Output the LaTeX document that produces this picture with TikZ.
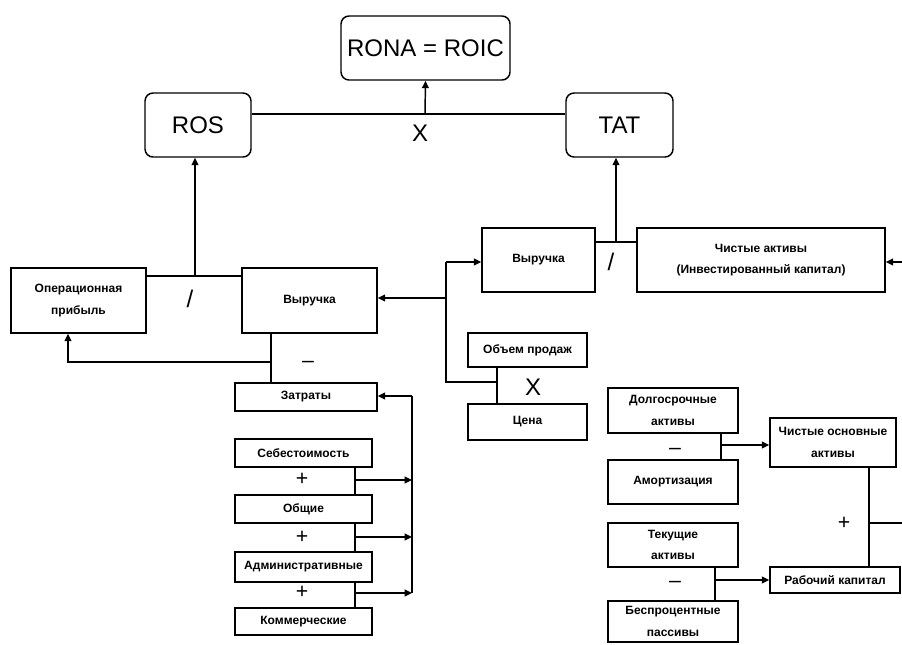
\documentclass[tikz,border=0pt]{standalone}
\usepackage{fontspec}
\setmainfont{Liberation Sans}
\usetikzlibrary{arrows.meta}
\begin{document}
\begin{tikzpicture}[x=0.75pt,y=-0.75pt,line width=1.1pt,
  box/.style={draw,rectangle,inner sep=0pt,align=center,font=\fontsize{9}{16}\selectfont\bfseries},
  rbox/.style={draw,rectangle,rounded corners=6pt,inner sep=0pt,minimum height=48pt,font=\fontsize{18}{20}\selectfont},
  arr/.style={-{Triangle[length=5.5pt,width=5pt]}},
  op/.style={inner sep=0pt,font=\fontsize{18}{20}\selectfont},
  sgn/.style={inner sep=0pt,font=\fontsize{16}{16}\selectfont}]
\useasboundingbox (0,0) rectangle (902,644);
\node[rbox,minimum width=126.75pt] (rona) at (425.5,48) {RONA = ROIC};
\node[rbox,minimum width=79.5pt] (ros) at (198,125) {ROS};
\node[rbox,minimum width=80.25pt] (tat) at (619.5,125) {TAT};
\node[box,minimum width=101.25pt,minimum height=48.75pt] (opprofit) at (78.5,300.5) {Операционная\\прибыль};
\node[box,minimum width=101.25pt,minimum height=48.75pt] (revL) at (309.5,300.5) {Выручка};
\node[box,minimum width=84.75pt,minimum height=48pt] (revR) at (538.5,260) {Выручка};
\node[box,minimum width=186pt,minimum height=48pt] (netassets) at (761,260) {Чистые активы\\(Инвестированный капитал)};
\node[box,minimum width=89.25pt,minimum height=25.5pt] (volume) at (527.5,350) {Объем продаж};
\node[box,minimum width=89.25pt,minimum height=27pt] (price) at (527.5,422) {Цена};
\node[box,minimum width=106.5pt,minimum height=21pt] (costs) at (306,397) {Затраты};
\node[box,minimum width=102.75pt,minimum height=21pt] (cogs) at (303.5,453) {Себестоимость};
\node[box,minimum width=102.75pt,minimum height=21pt] (general) at (303.5,509) {Общие};
\node[box,minimum width=102.75pt,minimum height=22.5pt] (admin) at (303.5,567) {Административные};
\node[box,minimum width=102.75pt,minimum height=20.25pt] (commercial) at (303.5,621.5) {Коммерческие};
\node[box,minimum width=97.5pt,minimum height=33.75pt] (ltassets) at (673,410.5) {Долгосрочные\\активы};
\node[box,minimum width=97.5pt,minimum height=33pt] (amort) at (673,482) {Амортизация};
\node[box,minimum width=94.5pt,minimum height=36.75pt] (netfixed) at (833,442.5) {Чистые основные\\активы};
\node[box,minimum width=97.5pt,minimum height=33pt] (curassets) at (673,545) {Текущие\\активы};
\node[box,minimum width=97.5pt,minimum height=30.75pt] (nibl) at (673,621.5) {Беспроцентные\\пассивы};
\node[box,minimum width=97.5pt,minimum height=19.5pt] (workcap) at (835,580) {Рабочий капитал};
\coordinate (mulT) at (425,114);
\coordinate (divL) at (195,276);
\coordinate (divR) at (616,242);
\coordinate (splitT) at (446,262);
\coordinate (splitM) at (446,298);
\coordinate (splitB) at (446,382);
\coordinate (mulV) at (497,382);
\coordinate (minL) at (271,362);
\coordinate (backL) at (68,362);
\coordinate (sumC) at (412,396);
\coordinate (sumA) at (355,480);
\coordinate (sumB) at (355,537);
\coordinate (sumD) at (355,593);
\coordinate (minF) at (721,445);
\coordinate (minW) at (715,580);
\coordinate (plusN) at (869,523);
\coordinate (edgeN) at (902,523);
\coordinate (edgeA) at (902,262);
\draw (ros.east |- mulT) -- (tat.west |- mulT);
\draw[arr] (mulT) -- (rona.south);
\node[op] (xtop) at (420,133) {X};
\draw (opprofit.east |- divL) -- (revL.west |- divL);
\draw[arr] (divL) -- (divL |- ros.south);
\node[op] (slashL) at (190,299) {/};
\draw (revR.east |- divR) -- (netassets.west |- divR);
\draw[arr] (divR) -- (divR |- tat.south);
\node[op] (slashR) at (611,262) {/};
\draw[arr] (edgeA) -- (netassets.east |- edgeA);
\draw (splitT) -- (splitB) -- (mulV);
\draw[arr] (splitT) -- (revR.west |- splitT);
\draw[arr] (splitM) -- (revL.east |- splitM);
\draw (mulV |- volume.south) -- (mulV |- price.north);
\node[op] (xmid) at (533,387) {X};
\draw (revL.south -| minL) -- (costs.north -| minL);
\draw[arr] (minL) -- (backL) -- (backL |- opprofit.south);
\node[sgn] (minusL) at (308,364) {–};
\draw (sumC) -- (sumC |- sumD);
\draw[arr] (sumC) -- (costs.east |- sumC);
\draw (cogs.south -| sumA) -- (general.north -| sumA);
\draw (general.south -| sumB) -- (admin.north -| sumB);
\draw (admin.south -| sumD) -- (commercial.north -| sumD);
\draw[arr] (sumA) -- (sumA -| sumC);
\draw[arr] (sumB) -- (sumB -| sumC);
\draw[arr] (sumD) -- (sumD -| sumC);
\node[sgn] (plusA) at (302,479) {+};
\node[sgn] (plusB) at (302,537) {+};
\node[sgn] (plusD) at (302,592) {+};
\draw (ltassets.south -| minF) -- (amort.north -| minF);
\draw[arr] (minF) -- (netfixed.west |- minF);
\node[sgn] (minusF) at (675,451) {–};
\draw (curassets.south -| minW) -- (nibl.north -| minW);
\draw[arr] (minW) -- (workcap.west |- minW);
\node[sgn] (minusW) at (675,584) {–};
\draw (netfixed.south -| plusN) -- (workcap.north -| plusN);
\draw (plusN) -- (edgeN);
\node[sgn] (plusR) at (844,523) {+};
\end{tikzpicture}
\end{document}
